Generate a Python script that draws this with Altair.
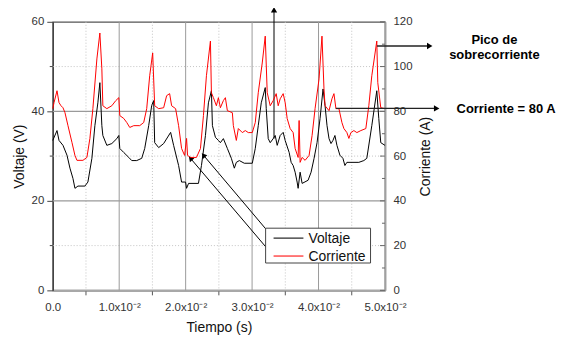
import altair as alt
import pandas as pd

# ---------------- data ----------------
volt_t_ms = [0.0, 0.64, 0.94, 1.54, 2.14, 2.59, 3.04, 3.34, 3.79, 4.84,
             5.29, 5.89, 6.34, 6.79, 7.09, 7.39, 7.54, 8.14, 8.89, 9.64,
             9.94, 10.09, 10.69, 11.44, 11.89, 12.64, 13.39, 13.84, 14.44, 14.89,
             15.19, 15.34, 15.94, 16.69, 17.74, 18.19, 18.94, 19.39, 19.99, 20.14,
             20.44, 21.93, 22.38, 22.98, 23.43, 23.88, 24.03, 24.48, 24.93, 25.23,
             25.68, 26.28, 26.88, 27.33, 27.63, 28.08, 28.83, 30.03, 30.48, 30.93,
             31.38, 31.98, 32.13, 32.43, 32.73, 33.18, 33.48, 33.78, 34.23, 34.68,
             34.98, 35.58, 35.88, 36.18, 36.48, 36.78, 36.93, 37.23, 37.53, 38.43,
             38.88, 39.33, 39.78, 40.23, 40.68, 40.98, 41.28, 41.58, 41.88, 42.17,
             42.47, 42.77, 43.22, 43.67, 43.97, 44.27, 46.07, 46.82, 47.27, 48.02,
             48.77, 49.07, 49.37, 50.0]
volt_v = [33.5, 35.7, 33.5, 32.4, 30.2, 27.3, 25.0, 22.8, 23.3, 23.3,
          24.2, 29.5, 36.8, 41.9, 46.4, 36.8, 34.6, 32.4, 32.8, 33.9,
          34.6, 31.7, 30.8, 29.7, 29.0, 29.0, 29.5, 31.7, 36.8, 41.3,
          42.4, 33.0, 31.9, 32.8, 35.3, 32.4, 27.9, 24.2, 24.2, 22.8,
          23.9, 23.9, 27.9, 34.6, 41.9, 44.6, 36.8, 34.2, 33.5, 33.0,
          33.9, 31.7, 29.5, 27.3, 28.6, 29.0, 28.4, 28.4, 31.7, 36.8,
          41.9, 45.3, 40.6, 33.9, 33.0, 33.9, 34.6, 32.4, 34.6, 35.3,
          33.5, 30.8, 28.6, 27.9, 26.4, 24.2, 22.8, 26.4, 23.9, 24.6,
          26.4, 29.5, 33.0, 38.4, 45.0, 41.3, 36.8, 33.9, 32.8, 33.5,
          34.6, 32.4, 30.2, 29.5, 27.9, 28.6, 28.6, 29.0, 29.5, 36.8,
          44.6, 38.4, 33.0, 32.4]

curr_t_ms = [0.0, 0.19, 0.64, 0.94, 1.24, 1.54, 1.84, 2.29, 2.89, 3.34,
             3.64, 4.54, 5.14, 5.59, 6.04, 6.64, 7.09, 7.39, 7.54, 8.14,
             8.89, 9.49, 9.94, 10.09, 10.69, 11.14, 11.59, 12.19, 13.09, 13.69,
             14.14, 14.59, 15.04, 15.34, 15.94, 16.69, 17.14, 17.59, 17.89, 18.49,
             18.94, 19.39, 19.84, 20.14, 20.29, 20.74, 21.63, 22.23, 22.68, 23.13,
             23.73, 23.88, 24.18, 24.63, 24.93, 25.23, 25.68, 25.98, 26.28, 27.03,
             27.18, 27.63, 27.93, 28.53, 28.98, 29.43, 30.03, 30.48, 30.93, 31.53,
             31.98, 32.28, 32.73, 33.18, 33.63, 33.93, 34.23, 34.68, 34.98, 35.28,
             35.73, 36.18, 36.48, 36.93, 37.08, 37.23, 37.53, 37.98, 38.58, 39.03,
             39.48, 40.08, 40.52, 40.82, 40.98, 41.58, 42.02, 42.32, 42.62, 43.07,
             43.52, 43.82, 44.27, 44.57, 44.87, 45.32, 45.77, 46.37, 47.12, 47.57,
             48.02, 48.77, 48.92, 49.37, 50.0]
curr_a = [81.2, 83.9, 89.2, 83.9, 82.5, 81.6, 79.4, 73.6, 66.1, 60.3,
          58.1, 58.1, 59.4, 67.9, 81.2, 103.4, 115.0, 99.0, 82.5, 81.2,
          82.5, 84.8, 86.1, 78.1, 76.8, 75.0, 72.8, 73.6, 73.6, 75.0,
          81.2, 95.9, 106.1, 82.5, 81.2, 81.6, 87.0, 87.9, 82.5, 81.2,
          73.6, 63.4, 60.3, 67.9, 60.3, 59.4, 59.4, 63.4, 78.1, 95.9,
          111.4, 88.3, 86.1, 82.5, 86.1, 81.6, 84.8, 86.1, 80.3, 79.4,
          73.6, 67.0, 72.3, 70.5, 71.4, 70.5, 70.5, 75.0, 88.3, 101.6,
          113.6, 88.3, 82.5, 84.8, 87.9, 82.5, 85.6, 87.9, 83.9, 76.8,
          72.3, 70.5, 63.4, 59.4, 75.9, 57.2, 59.4, 58.1, 60.3, 69.2,
          81.2, 94.5, 113.6, 90.1, 82.5, 80.3, 85.6, 87.9, 81.2, 81.2,
          75.0, 72.3, 70.5, 67.9, 70.5, 71.4, 70.5, 71.4, 72.3, 82.5,
          95.9, 111.4, 92.8, 81.6, 81.2]

x_major_ms = [0, 10, 20, 30, 40, 50]
x_minor_ms = [5, 15, 25, 35, 45]
x_tick_labels = ["0.0", "1.0x10⁻²", "2.0x10⁻²", "3.0x10⁻²", "4.0x10⁻²", "5.0x10⁻²"]
volt_major = [0, 20, 40, 60]
volt_minor = [10, 30, 50]
curr_major = [0, 20, 40, 60, 80, 100, 120]
curr_minor = [10, 30, 50, 70, 90, 110]
legend_labels = ["Voltaje", "Corriente"]
series_colors = ["#000000", "#ff0000"]
annot_texts = ["Pico de", "sobrecorriente", "Corriente = 80 A"]

# annotation anchor points (data units)
up_arrow_t, up_arrow_v = [0.0333], [33.9]
ptr_t, ptr_v = [0.02073, 0.02268], [29.5, 30.2]
pico_t, pico_a = [0.0488], [109.2]
ochenta_t, ochenta_a = [0.0426], [81.3]

# ---------------- chart ----------------
W, H = 334, 270
FONT = "Liberation Sans"
GRID_MAJ = "#9a9a9a"
GRID_MIN = "#c4c4c4"

volt_df = pd.DataFrame({"t": [v / 1000 for v in volt_t_ms], "v": volt_v})
curr_df = pd.DataFrame({"t": [v / 1000 for v in curr_t_ms], "a": curr_a})
one = pd.DataFrame({"k": [0]})

label_expr = "''"
for ms, lab in reversed(list(zip(x_major_ms, x_tick_labels))):
    label_expr = f"round(datum.value*1000)=={ms} ? '{lab}' : ({label_expr})"

x_scale = alt.Scale(domain=[0, 0.05], nice=False, zero=False)
v_scale = alt.Scale(domain=[0, 60], nice=False, zero=False)
a_scale = alt.Scale(domain=[0, 120], nice=False, zero=False)

x_axis = alt.Axis(
    values=[v / 1000 for v in x_major_ms], labelExpr=label_expr, title="Tiempo (s)",
    grid=False, ticks=False, domainColor="#a8a8a8", domainWidth=2.5,
    labelPadding=11, titlePadding=8, labelOverlap=False, labelFlush=False,
)
v_axis = alt.Axis(
    values=volt_major, title="Voltaje (V)", grid=False,
    tickSize=6, tickColor="#444", domainColor="#444", domainWidth=1.5,
    labelPadding=3, titlePadding=5, labelOverlap=False,
)
a_axis = alt.Axis(
    orient="right", values=curr_major, title="Corriente (A)",
    titleAngle=270, titleBaseline="top",
    grid=False, ticks=False, domainColor="#a0a0a0", domainWidth=2,
    labelPadding=8, titlePadding=7, labelOverlap=False,
)


def X(field="t"):
    return alt.X(f"{field}:Q", scale=x_scale, axis=x_axis)


def VY(field="v"):
    return alt.Y(f"{field}:Q", scale=v_scale, axis=v_axis)


def AY(field="a"):
    return alt.Y(f"{field}:Q", scale=a_scale, axis=a_axis)


# ---- grids and minor ticks (drawn through the scales) ----
xg_maj = pd.DataFrame({"t": [v / 1000 for v in x_major_ms[1:-1]]})
xg_min = pd.DataFrame({"t": [v / 1000 for v in x_minor_ms]})
yg_maj = pd.DataFrame({"v": volt_major[1:-1]})
yg_min = pd.DataFrame({"v": volt_minor})

grid_layers = [
    alt.Chart(xg_min).mark_rule(color=GRID_MIN, strokeWidth=1, strokeDash=[1, 2]).encode(
        x=X(), y=alt.value(0), y2=alt.value(H)),
    alt.Chart(yg_min).mark_rule(color=GRID_MIN, strokeWidth=1, strokeDash=[1, 2]).encode(
        y=VY(), x=alt.value(0), x2=alt.value(W)),
    alt.Chart(xg_maj).mark_rule(color=GRID_MAJ, strokeWidth=1).encode(
        x=X(), y=alt.value(0), y2=alt.value(H)),
    alt.Chart(yg_maj).mark_rule(color=GRID_MAJ, strokeWidth=1.2).encode(
        y=VY(), x=alt.value(0), x2=alt.value(W)),
    alt.Chart(xg_min).mark_rule(color="#555", strokeWidth=1).encode(
        x=X(), y=alt.value(H + 1), y2=alt.value(H + 5)),
    alt.Chart(yg_min).mark_rule(color="#444", strokeWidth=1).encode(
        y=VY(), x=alt.value(-3), x2=alt.value(0)),
]

# --- voltage group ---
volt_line = alt.Chart(volt_df).mark_line(color=series_colors[0], strokeWidth=1).encode(
    x=X(), y=VY())

up_df = pd.DataFrame({"t": up_arrow_t, "v": up_arrow_v})
up_rule = alt.Chart(up_df).mark_rule(color="black", strokeWidth=1).encode(
    x=X(), y=VY(), y2=alt.value(-13))
up_head = alt.Chart(up_df).mark_point(shape="triangle-up", filled=True, size=40,
                                      color="black", opacity=1).encode(
    x=X(), y=alt.value(-12))

legend_box = alt.Chart(one).mark_rect(fill="white", stroke="#444", strokeWidth=1).encode(
    x=alt.value(214), x2=alt.value(319.5), y=alt.value(207.5), y2=alt.value(242.5))
legend_rows = [217.5, 235.5]
legend_layers = [legend_box]
for i, lab in enumerate(legend_labels):
    legend_layers.append(
        alt.Chart(one).mark_rule(color=series_colors[i], strokeWidth=1.5, opacity=0.7).encode(
            x=alt.value(222), x2=alt.value(252), y=alt.value(legend_rows[i])))
    legend_layers.append(
        alt.Chart(one).mark_text(text=lab, font=FONT, fontSize=14, align="left",
                                 baseline="middle", color="#111").encode(
            x=alt.value(257), y=alt.value(legend_rows[i] + 1)))

ptr_layers = []
ptr_ends_y = [235.5, 217.5]
for i in range(2):
    pdf = pd.DataFrame({"t": [ptr_t[i]], "v": [ptr_v[i]]})
    ptr_layers.append(alt.Chart(pdf).mark_rule(color="black", strokeWidth=1).encode(
        x=X(), y=VY(), x2=alt.value(222), y2=alt.value(ptr_ends_y[i])))
    ptr_layers.append(alt.Chart(pdf).mark_point(shape="triangle-up", filled=True, size=35,
                                                angle=319, color="black", opacity=1).encode(
        x=X(), y=VY()))

left = alt.layer(*grid_layers, volt_line, up_rule, up_head, *ptr_layers, *legend_layers)

# --- current group ---
curr_line = alt.Chart(curr_df).mark_line(color=series_colors[1], strokeWidth=1).encode(
    x=X(), y=AY())
maj_df = pd.DataFrame({"a": curr_major})
min_df = pd.DataFrame({"a": curr_minor})
rt_major = alt.Chart(maj_df).mark_rule(color="#666", strokeWidth=1).encode(
    y=AY(), x=alt.value(W - 5), x2=alt.value(W))
rt_minor = alt.Chart(min_df).mark_rule(color="#666", strokeWidth=1).encode(
    y=AY(), x=alt.value(W - 3), x2=alt.value(W))

pico_df = pd.DataFrame({"t": pico_t, "a": pico_a})
pico_rule = alt.Chart(pico_df).mark_rule(color="#222", strokeWidth=1.3).encode(
    x=X(), y=AY(), x2=alt.value(378))
pico_head = alt.Chart(pico_df).mark_point(shape="triangle-right", filled=True, size=40,
                                          color="black", opacity=1).encode(
    x=alt.value(379), y=AY())

o_df = pd.DataFrame({"t": ochenta_t, "a": ochenta_a})
o_rule = alt.Chart(o_df).mark_rule(color="#222", strokeWidth=1.3).encode(
    x=X(), y=AY(), x2=alt.value(384))
o_head = alt.Chart(o_df).mark_point(shape="triangle-right", filled=True, size=40,
                                    color="black", opacity=1).encode(
    x=alt.value(386), y=AY())

txt_pos = [(444, 18.5, "center"), (444, 33.5, "center"), (406, 87.5, "left")]
txt_layers = []
for (px, py, al), s in zip(txt_pos, annot_texts):
    txt_layers.append(alt.Chart(one).mark_text(text=s, font=FONT, fontSize=13, fontWeight="bold",
                                               align=al, baseline="middle", color="black").encode(
        x=alt.value(px), y=alt.value(py)))

right = alt.layer(curr_line, rt_major, rt_minor, pico_rule, pico_head, o_rule, o_head, *txt_layers)

chart = (
    alt.layer(left, right)
    .resolve_scale(y="independent")
    .properties(width=W, height=H,
                padding={"left": 45, "top": 13, "right": 180, "bottom": 46},
                autosize=alt.AutoSizeParams(type="none"))
    .configure_view(stroke="#555", strokeWidth=1.2)
    .configure_axis(labelFont=FONT, titleFont=FONT, labelFontSize=11.5, titleFontSize=14,
                    labelColor="#333", titleColor="#111", titleFontWeight="normal")
)

chart.save("out.html", embed_options={"renderer": "svg", "actions": False})
